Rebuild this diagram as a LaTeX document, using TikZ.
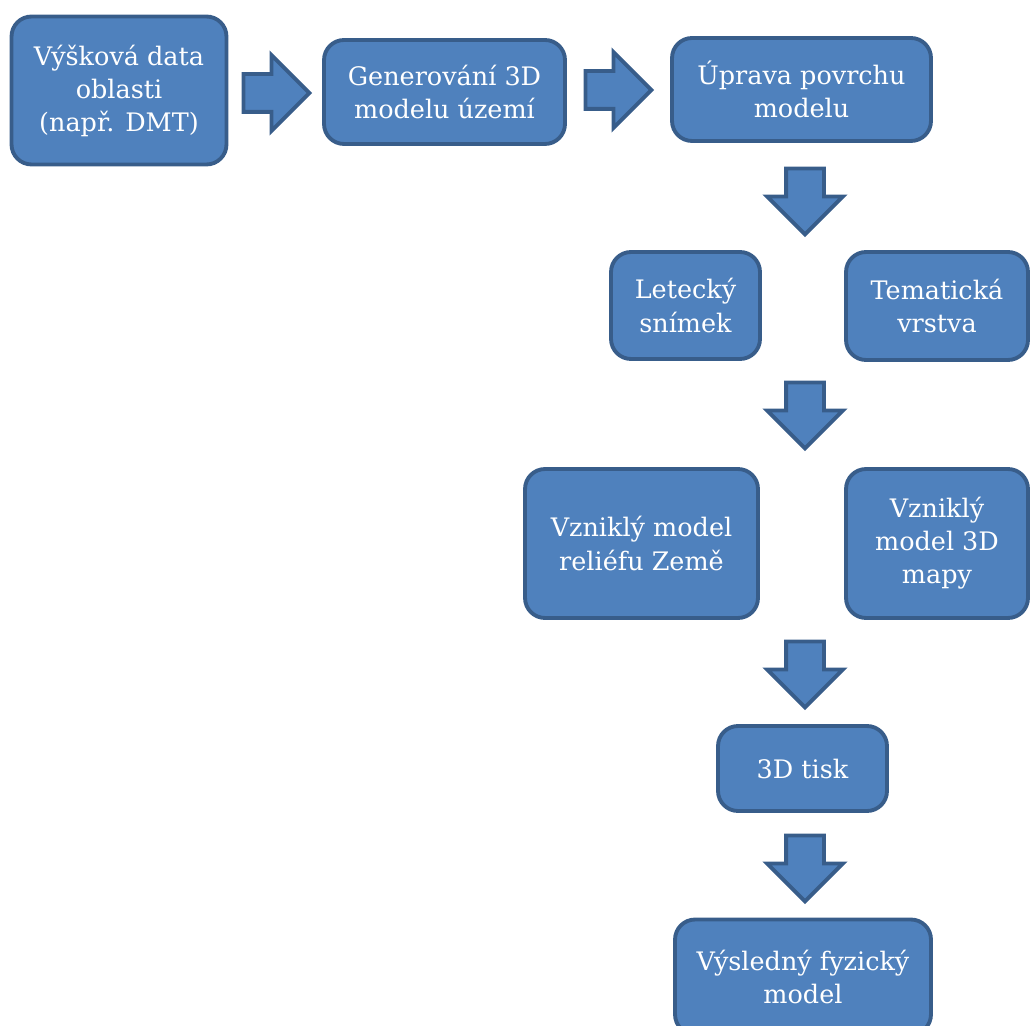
\documentclass[tikz,border=0pt]{standalone}
\usepackage{fontspec}
\setmainfont{DejaVu Serif}
\usetikzlibrary{shapes.arrows}
\definecolor{boxfill}{HTML}{4F81BD}
\definecolor{boxline}{HTML}{385D8A}

\begin{document}
\begin{tikzpicture}[x=0.02cm,y=-0.02cm,
    box/.style={draw=boxline,fill=boxfill,line width=2.2pt,rounded corners=0.4cm,
      text=white,align=center,inner sep=0pt,
      font=\fontsize{14.5}{18.8}\selectfont},
    blk/.style={single arrow,draw=boxline,fill=boxfill,line width=2.2pt,
      inner xsep=0pt,inner ysep=0.34cm,minimum height=1.32cm,
      single arrow head extend=0.38cm}]
      \useasboundingbox (0,0) rectangle (1030,1026);
      \clip (0,0) rectangle (1030,1026);

      \node[box,minimum width=4.3cm,minimum height=2.96cm] (vyska) at (119,90.5)
        {Výšková data\\oblasti\\(např. DMT)};
      \node[box,minimum width=4.82cm,minimum height=2.08cm] (gen) at (444.5,92)
        {Generování 3D\\modelu území};
      \node[box,minimum width=5.18cm,minimum height=2.06cm] (uprava) at (801.5,89.5)
        {Úprava povrchu\\modelu};

      \node[box,minimum width=2.98cm,minimum height=2.14cm] (letecky) at (685.5,305.5)
        {Letecký\\snímek};
      \node[box,minimum width=3.64cm,minimum height=2.16cm] (tema) at (937,306)
        {Tematická\\vrstva};

      \node[box,minimum width=4.66cm,minimum height=2.98cm] (relief) at (641.5,543.5)
        {Vzniklý model\\reliéfu Země};
      \node[box,minimum width=3.64cm,minimum height=2.98cm] (mapa) at (937,543.5)
        {Vzniklý\\model 3D\\mapy};

      \node[box,minimum width=3.38cm,minimum height=1.7cm] (tisk) at (802.5,768.5)
        {3D tisk};
      \node[box,minimum width=5.12cm,minimum height=2.3cm] (vysledek) at (803,977)
        {Výsledný fyzický\\model};

      \node[blk] (a1) at (267,93) {};
      \node[blk] (a2) at (609,90) {};
      \node[blk,rotate=-90] (a3) at (805,192) {};
      \node[blk,rotate=-90] (a4) at (805,406) {};
      \node[blk,rotate=-90] (a5) at (805,665) {};
      \node[blk,rotate=-90] (a6) at (805,859) {};
\end{tikzpicture}
\end{document}
